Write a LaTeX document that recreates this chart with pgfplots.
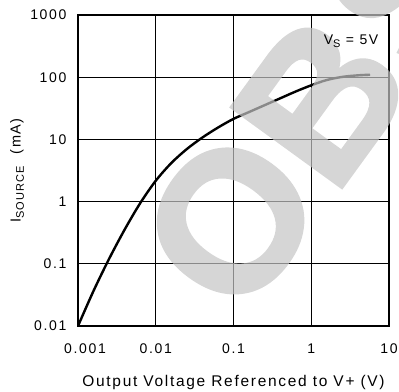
\documentclass[border=0pt]{standalone}
\usepackage{fontspec}
\setmainfont{Liberation Sans}
\newfontfamily\tickfont{Liberation Sans}[LetterSpace=12]
\newfontfamily\labelfont{Liberation Sans}[LetterSpace=11]
\newfontfamily\wmfont{Liberation Sans Bold}[FakeBold=1.8]
\usepackage{pgfplots}
\pgfplotsset{compat=1.18}

% source current vs. output headroom, V_S = 5 V
\pgfplotstableread{
x        y
0.00100  0.0100
0.001585 0.03673
0.002512 0.1202
0.003981 0.3548
0.006310 0.9441
0.01000  2.163
0.01585  4.169
0.02512  6.998
0.03981  10.72
0.06310  15.49
0.1000   21.38
0.1585   27.54
0.2512   35.48
0.3981   45.71
0.6310   58.88
1.000    74.13
1.585    90.16
2.512    101.2
3.981    107.2
5.702    109.6
}\isource

\begin{document}
\begin{tikzpicture}
\begin{axis}[
  name=ax,
  at={(0,0)}, anchor=south west,
  scale only axis,
  width=311pt, height=311pt,
  xmode=log, ymode=log,
  xmin=0.001, xmax=10, ymin=0.01, ymax=1000,
  xtick={0.001,0.01,0.1,1,10},
  xticklabels={\hspace{14pt}0.001,0.01,0.1,1,10},
  ytick={0.01,0.1,1,10,100,1000},
  yticklabels={0.01,0.1,1,10,100,1000},
  xminorticks=false, yminorticks=false,
  major tick length=0pt,
  grid=major,
  major grid style={black, line width=0.8pt},
  axis line style={black, line width=1.6pt},
  /pgf/number format/assume math mode=true,
  tick label style={font=\tickfont\fontsize{14}{15}\selectfont},
  xticklabel style={yshift=-14pt},
  yticklabel style={xshift=-8pt},
  xlabel={Output Voltage Referenced to V+ (V)},
  xlabel style={at={(axis description cs:0.5,0)}, anchor=center, yshift=-56pt,
                font=\labelfont\fontsize{15.5}{16}\selectfont},
  ylabel={I\raisebox{-0.45ex}{\fontsize{11}{12}\selectfont SOURCE}\ \ (mA)},
  ylabel style={at={(axis description cs:-0.196,0.5)}, anchor=center, rotate=0,
                font=\labelfont\fontsize{14.5}{15}\selectfont},
]
\addplot[black, line width=2.4pt, smooth] table[x=x, y=y] {\isource};
\end{axis}
% translucent OBSOLETE stamp over the chart
\begin{scope}[shift={(ax.south west)}, transparency group, opacity=0.7]
  \foreach \ch/\px/\py in {O/153/105, B/243/226, S/330/342}{
    \node[rotate=54, text=black!23, inner sep=0pt,
          font=\wmfont\fontsize{198}{198}\selectfont]
      at (\px pt,\py pt) {\ch};
  }
\end{scope}
% supply condition
\node[font=\labelfont\fontsize{14}{15}\selectfont]
  at ([shift={(273pt,285pt)}]ax.south west)
  {V\raisebox{-0.45ex}{\fontsize{11}{12}\selectfont S} = 5V};
\pgfresetboundingbox
\path[use as bounding box] ([shift={(-78pt,-65pt)}]ax.south west)
  rectangle ([shift={(321pt,326pt)}]ax.south west);
\end{tikzpicture}
\end{document}
